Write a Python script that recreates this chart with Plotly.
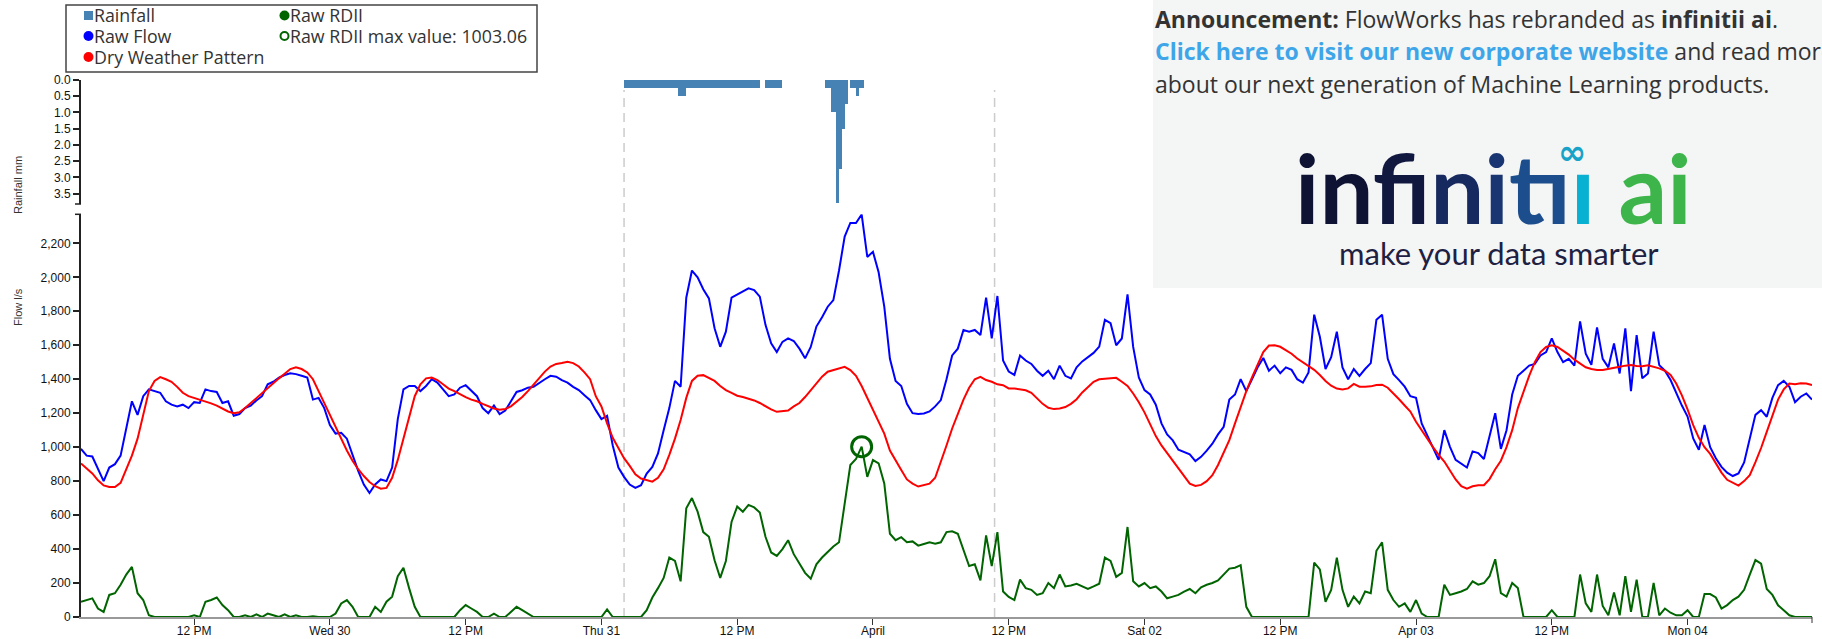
import numpy as np
import pandas as pd
import plotly.graph_objects as go

# ---------------- data ----------------
start = "2022-03-29 02:00"
end = "2022-04-04 11:00"
times = pd.date_range(start, end, freq="30min")

raw_flow = [
    990, 950, 945, 870, 800, 880, 900, 950, 1120, 1270, 1190, 1300,
    1340, 1330, 1320, 1270, 1250, 1240, 1250, 1230, 1265, 1260, 1340, 1330,
    1325, 1260, 1270, 1185, 1195, 1230, 1245, 1275, 1300, 1370, 1385, 1410,
    1425, 1435, 1430, 1420, 1410, 1280, 1290, 1230, 1130, 1080, 1085, 1050,
    950, 860, 780, 730, 780, 810, 800, 880,
    1165, 1340, 1360, 1360, 1330, 1360, 1400, 1380, 1340, 1300, 1310, 1350,
    1365, 1330, 1300, 1230, 1200, 1245, 1195, 1215, 1270, 1325, 1335, 1350,
    1355, 1380, 1400, 1420, 1415,
    1395, 1380, 1355, 1336, 1305, 1277, 1218, 1165, 1185, 1010, 880, 825,
    780, 760, 776, 845, 884, 963, 1100, 1230, 1390, 1356, 1880, 2040,
    2000, 1930, 1876, 1700, 1591, 1680, 1880, 1900, 1915, 1935, 1925, 1886,
    1720, 1611, 1560, 1620, 1640, 1625, 1580, 1523, 1590, 1710, 1765, 1827,
    1866, 2040, 2240, 2320, 2320, 2370, 2120, 2150, 2030, 1827, 1520, 1390,
    1360, 1255, 1200, 1195, 1198, 1210, 1240, 1277, 1400, 1540, 1580, 1690,
    1680, 1690, 1660, 1880, 1640, 1890, 1510, 1445,
    1425, 1540, 1510, 1490, 1450, 1420, 1450, 1400, 1480, 1420, 1405, 1470,
    1505, 1530, 1555, 1592, 1750, 1730, 1600, 1640, 1900, 1590, 1410, 1336,
    1310, 1250, 1140, 1075, 1040, 985, 970, 958, 918, 943, 980, 1020,
    1075, 1120, 1280, 1310, 1400, 1330, 1400, 1470, 1525, 1450, 1480, 1435,
    1470, 1455, 1400, 1380, 1440, 1780, 1650, 1460, 1530, 1680, 1470, 1400,
    1460, 1420, 1460, 1495, 1750, 1780, 1520, 1430, 1395, 1356, 1300, 1290,
    1140, 1070, 995, 925, 1100, 1002, 925, 904, 880, 975, 965, 930,
    1060, 1200, 990, 1100, 1310, 1420,
    1450, 1480, 1490, 1540, 1560, 1640, 1560, 1500, 1520, 1480, 1740, 1550,
    1485, 1705, 1520, 1470, 1610, 1434,
    1700, 1330, 1660, 1405, 1434, 1680, 1483, 1450, 1395, 1316, 1245, 1180,
    1051, 985, 1130, 1000, 935, 884, 850, 830, 845, 910, 1060, 1190,
    1218, 1179, 1290, 1365, 1390, 1356, 1265, 1297, 1316, 1280,
]

dry_weather = [
    904, 875, 845, 805, 775, 765, 765, 790, 870, 950, 1050, 1200,
    1330, 1390, 1412, 1400, 1385, 1355, 1320, 1300, 1290, 1280, 1268, 1258,
    1245, 1225, 1210, 1200, 1205, 1230, 1260, 1290, 1320, 1350, 1380, 1405,
    1432, 1460, 1470, 1460, 1440, 1400, 1330, 1260, 1180, 1110, 1040, 980,
    920, 870, 830, 795, 770, 755, 760, 820,
    925, 1050, 1190, 1300, 1370, 1405, 1410, 1395, 1370, 1345, 1330, 1310,
    1295, 1280, 1270, 1255, 1240, 1228, 1220, 1225, 1240, 1265, 1295, 1330,
    1370, 1410, 1445, 1475, 1490,
    1495, 1503, 1495, 1475, 1440, 1400, 1300, 1240, 1140, 1055, 995, 935,
    890, 840, 815, 805, 797, 820, 870, 955, 1050, 1160, 1290, 1390,
    1420, 1424, 1408, 1390, 1360, 1336, 1320, 1303, 1295, 1285, 1275, 1260,
    1240, 1222, 1208, 1212, 1216, 1240, 1260, 1295, 1335, 1375, 1415, 1444,
    1455, 1465, 1473, 1454, 1420, 1360, 1290, 1225, 1150, 1080, 980, 920,
    865, 810, 785, 768, 775, 785, 820, 910, 1010, 1110, 1200, 1280,
    1350, 1400, 1414, 1395, 1385, 1370, 1365, 1346,
    1345, 1340, 1335, 1320, 1285, 1255, 1232, 1224, 1228, 1236, 1255, 1282,
    1322, 1355, 1385, 1400, 1404, 1408, 1408, 1385, 1360, 1316, 1265, 1205,
    1130, 1065, 1010, 965, 923, 880, 835, 785, 772, 778, 800, 835,
    895, 965, 1041, 1140, 1235, 1330, 1410, 1490, 1560, 1598, 1600, 1591,
    1572, 1550, 1522, 1500, 1478, 1455, 1425, 1390, 1362, 1345, 1340, 1346,
    1372, 1356, 1356, 1358, 1366, 1368, 1350, 1318, 1282, 1245, 1210, 1150,
    1100, 1045, 1000, 955, 915, 862, 810, 770, 756, 770, 776, 776,
    812, 870, 920, 1000, 1100, 1230,
    1330, 1420, 1500, 1560, 1590, 1600, 1590, 1570, 1545, 1515, 1490, 1470,
    1460, 1455, 1455, 1460, 1465, 1474,
    1480, 1483, 1478, 1476, 1482, 1475, 1464, 1450, 1425, 1375, 1305, 1222,
    1130, 1055, 1000, 960, 908, 850, 808, 790, 774, 800, 835, 912,
    995, 1090, 1185, 1280, 1340, 1375, 1371, 1376, 1375, 1365,
]

raw_rdii = [
    90, 100, 110, 50, 30, 130, 140, 190, 250, 295, 140, 100,
    10, 0, 0, 0, 0, 0, 0, 0, 10, 0, 90, 100,
    115, 70, 40, 0, 0, 10, 0, 15, 0, 20, 10, 0,
    15, 0, 10, 0, 0, 5, 0, 0, 0, 20, 80, 100,
    60, 0, 0, 0, 60, 30, 90, 120,
    240, 290, 170, 60, 0, 0, 0, 0, 0, 0, 0, 40,
    70, 50, 30, 0, 0, 20, 0, 0, 30, 60, 40, 20,
    0, 0, 0, 0, 0,
    0, 0, 0, 0, 0, 0, 0, 0, 45, 0, 0, 0,
    0, 0, 0, 40, 115, 170, 230, 350, 330, 210, 640, 700,
    620, 500, 472, 334, 230, 330, 560, 650, 620, 660, 645, 615,
    472, 380, 360, 400, 452, 370, 314, 260, 225, 310, 350, 385,
    415, 440, 668, 895, 930, 1003.06, 825, 924, 905, 786, 490, 452,
    470, 440, 445, 420, 430, 440, 432, 440, 500, 505, 490, 393,
    300, 310, 216, 480, 300, 500, 150, 118,
    100, 220, 170, 160, 130, 140, 200, 170, 250, 180, 185, 195,
    180, 165, 180, 196, 350, 330, 236, 260, 530, 210, 180, 200,
    170, 180, 150, 110, 120, 130, 150, 165, 140, 175, 190, 200,
    215, 250, 285, 290, 305, 60, 0, 0, 0, 0, 0, 0,
    0, 0, 0, 0, 0, 320, 280, 90, 160, 350, 160, 60,
    120, 80, 150, 140, 390, 440, 160, 100, 60, 80, 30, 100,
    20, 0, 0, 0, 190, 130, 140, 150, 165, 210, 190, 200,
    240, 340, 140, 120, 200, 170,
    0, 0, 0, 0, 0, 40, 0, 0, 0, 0, 250, 80,
    30, 250, 65, 10, 145, 10,
    240, 30, 220, 0, 0, 200, 10, 50, 25, 10, 10, 40,
    0, 0, 135, 135, 115, 50, 70, 100, 120, 160, 250, 335,
    314, 165, 130, 69, 40, 10, 0, 0, 0, 0,
]

rain_start = "2022-03-31 02:00"
rainfall = [
    0.25, 0.25, 0.25, 0.25, 0.25, 0.25, 0.25, 0.25, 0.25, 0.25, 0.25, 0.25,
    0.25, 0.25, 0.25, 0.25, 0.25, 0.25, 0.25, 0.5, 0.5, 0.5, 0.25, 0.25,
    0.25, 0.25, 0.25, 0.25, 0.25, 0.25, 0.25, 0.25, 0.25, 0.25, 0.25, 0.25,
    0.25, 0.25, 0.25, 0.25, 0.25, 0.25, 0.25, 0.25, 0.25, 0.25, 0.25, 0.25,
    0, 0, 0.25, 0.25, 0.25, 0.25, 0.25, 0.25, 0, 0, 0, 0,
    0, 0, 0, 0, 0, 0, 0, 0, 0, 0, 0, 0.25,
    0.25, 1.0, 1.0, 3.8, 2.75, 1.5, 0.75, 0, 0.25, 0.25, 0.5, 0.25,
    0.25,
]
rain_times = pd.date_range(rain_start, periods=len(rainfall), freq="15min")

event_start = "2022-03-31 02:00"
event_end = "2022-04-01 10:45"

tick_times = pd.date_range("2022-03-29 12:00", "2022-04-04 00:00", freq="12h")
tick_labels = ["12 PM", "Wed 30", "12 PM", "Thu 31", "12 PM", "April",
               "12 PM", "Sat 02", "12 PM", "Apr 03", "12 PM", "Mon 04"]
flow_ticks = [0, 200, 400, 600, 800, 1000, 1200, 1400, 1600, 1800, 2000, 2200]
rain_ticks = [0.0, 0.5, 1.0, 1.5, 2.0, 2.5, 3.0, 3.5]

# ---------------- geometry ----------------
W, H = 1822, 639
ML, MR, MT, MB = 81, 10, 80, 22
PW = W - ML - MR
PH = H - MT - MB


def px(x):
    return (x - ML) / PW


def py(y):
    return (H - MB - y) / PH


BLUE = "#0000ff"
RED = "#ff0000"
GREEN = "#006400"
STEEL = "#4682b4"
AXIS_FONT = "Liberation Sans, Arial, sans-serif"

fig = go.Figure()
fig.add_trace(go.Bar(x=rain_times, y=rainfall, width=15 * 60 * 1000, offset=0,
                     marker=dict(color=STEEL, line=dict(width=0)),
                     xaxis="x", yaxis="y2", name="Rainfall"))
fig.add_trace(go.Scatter(x=times, y=raw_flow, mode="lines", name="Raw Flow",
                         line=dict(color=BLUE, width=2)))
fig.add_trace(go.Scatter(x=times, y=dry_weather, mode="lines", name="Dry Weather Pattern",
                         line=dict(color=RED, width=2)))
fig.add_trace(go.Scatter(x=times, y=raw_rdii, mode="lines", name="Raw RDII",
                         line=dict(color=GREEN, width=2)))
imax = int(np.argmax(raw_rdii))
rdii_max = raw_rdii[imax]
fig.add_trace(go.Scatter(x=[times[imax]], y=[rdii_max], mode="markers", name="max",
                         marker=dict(symbol="circle-open", size=20, color=GREEN,
                                     line=dict(width=3, color=GREEN))))

shapes = []
for t in (event_start, event_end):
    shapes.append(dict(type="line", xref="x", yref="paper", x0=t, x1=t, y0=0, y1=py(90),
                       line=dict(color="#cccccc", width=1.5, dash="9px,6px"), layer="below"))
# outer ticks of the d3 style axes
shapes.append(dict(type="line", xref="paper", yref="paper", x0=px(75), x1=px(81),
                   y0=py(204), y1=py(204), line=dict(color="#222", width=1.5), layer="above"))
shapes.append(dict(type="line", xref="paper", yref="paper", x0=px(75), x1=px(81),
                   y0=py(214.3), y1=py(214.3), line=dict(color="#222", width=1.5), layer="above"))
shapes.append(dict(type="line", xref="paper", yref="paper", x0=1, x1=1,
                   y0=0, y1=py(623), line=dict(color="#333", width=1), layer="above"))

# legend box
shapes.append(dict(type="rect", xref="paper", yref="paper", x0=px(66), x1=px(537),
                   y0=py(5), y1=py(72), fillcolor="white", line=dict(color="#444", width=1.5),
                   layer="above"))
shapes.append(dict(type="rect", xref="paper", yref="paper", x0=px(84), x1=px(93),
                   y0=py(11), y1=py(20), fillcolor=STEEL, line=dict(width=0), layer="above"))
for (cx, cy, col) in [(88.5, 36, BLUE), (88.5, 57, RED), (284.5, 15.5, GREEN)]:
    shapes.append(dict(type="circle", xref="paper", yref="paper", x0=px(cx - 5), x1=px(cx + 5),
                       y0=py(cy - 5), y1=py(cy + 5), fillcolor=col, line=dict(width=0),
                       layer="above"))
shapes.append(dict(type="circle", xref="paper", yref="paper", x0=px(280.5), x1=px(288.5),
                   y0=py(32), y1=py(40), fillcolor="white", line=dict(color=GREEN, width=2),
                   layer="above"))

# announcement panel
shapes.append(dict(type="rect", xref="paper", yref="paper", x0=px(1153), x1=px(1832),
                   y0=py(-5), y1=py(288), fillcolor="#f4f5f5", line=dict(width=0),
                   layer="above"))

annotations = []


def ann(text, x, y, size, color="#333", family="Open Sans", xanchor="left",
        yanchor="middle", angle=0):
    annotations.append(dict(text=text, x=px(x), y=py(y), xref="paper", yref="paper",
                            showarrow=False, xanchor=xanchor, yanchor=yanchor,
                            textangle=angle, borderpad=0,
                            font=dict(family=family, size=size, color=color)))


# legend texts
LEG = 17.8
ann("Rainfall", 93, 15, LEG)
ann("Raw Flow", 93, 36, LEG)
ann("Dry Weather Pattern", 93, 57, LEG)
ann("Raw RDII", 289, 15, LEG)
ann(f"Raw RDII max value: {rdii_max:.2f}", 289, 36, LEG)

# axis titles
ann("Rainfall mm", 18, 185, 11, color="#333", family=AXIS_FONT, xanchor="center", angle=-90)
ann("Flow l/s", 18, 307, 11, color="#333", family=AXIS_FONT, xanchor="center", angle=-90)

# announcement
ANN = 23
ann("<b>Announcement:</b> FlowWorks has rebranded as <b>infinitii ai</b>.", 1154, 19, ANN)
ann('<b><span style="color:#3ea6e8">Click here to visit our new corporate website</span></b>'
    ' and read more', 1154, 51, ANN)
ann("about our next generation of Machine Learning products.", 1154, 84, ANN)

logo = ('<b><span style="color:#0e1333">in</span><span style="color:#111840">f</span>'
        '<span style="color:#14204f">i</span><span style="color:#172a60">n</span>'
        '<span style="color:#1a3672">i</span><span style="color:#1c4d8c">t</span>'
        '<span style="color:#0b8fba">ı</span><span style="color:#08b0d2">ı</span> '
        '<span style="color:#3db54a">ai</span></b>')
ann(logo, 1493, 187, 96, family="Lato", xanchor="center")
ann("<b>∞</b>", 1572, 152, 34, color="#17a2c8", family="DejaVu Sans", xanchor="center")
ann("make your data smarter", 1499, 253, 31, color="#1e2142", family="Lato", xanchor="center")

fig.update_layout(
    width=W, height=H, template="none",
    margin=dict(l=ML, r=MR, t=MT, b=MB, pad=0),
    paper_bgcolor="white", plot_bgcolor="white",
    showlegend=False, bargap=0,
    font=dict(family=AXIS_FONT, size=12, color="#222"),
    xaxis=dict(type="date", range=[start, end], tickvals=tick_times, ticktext=tick_labels,
               ticks="outside", ticklen=6, tickwidth=1, tickcolor="#333",
               ticklabelstandoff=-4,
               showline=True, linecolor="#999999", linewidth=2, showgrid=False,
               zeroline=False, anchor="y", automargin=False,
               tickfont=dict(family=AXIS_FONT, size=12, color="#111")),
    yaxis=dict(domain=[0, py(214.3)], range=[0, 2371], tickvals=flow_ticks, tickformat=",",
               ticks="outside", ticklen=6, tickwidth=1.5, tickcolor="#222",
               showline=True, linecolor="#222", linewidth=2, showgrid=False,
               zeroline=False, automargin=False,
               tickfont=dict(family=AXIS_FONT, size=12, color="#111")),
    yaxis2=dict(domain=[py(204), 1], range=[3.82, 0], tickvals=rain_ticks, tickformat=".1f",
                ticks="outside", ticklen=6, tickwidth=1.5, tickcolor="#222",
                showline=True, linecolor="#222", linewidth=2, showgrid=False,
                zeroline=False, anchor="x", automargin=False,
                tickfont=dict(family=AXIS_FONT, size=12, color="#111")),
    shapes=shapes, annotations=annotations,
)

fig.write_html("out.html", config={"displayModeBar": False})
